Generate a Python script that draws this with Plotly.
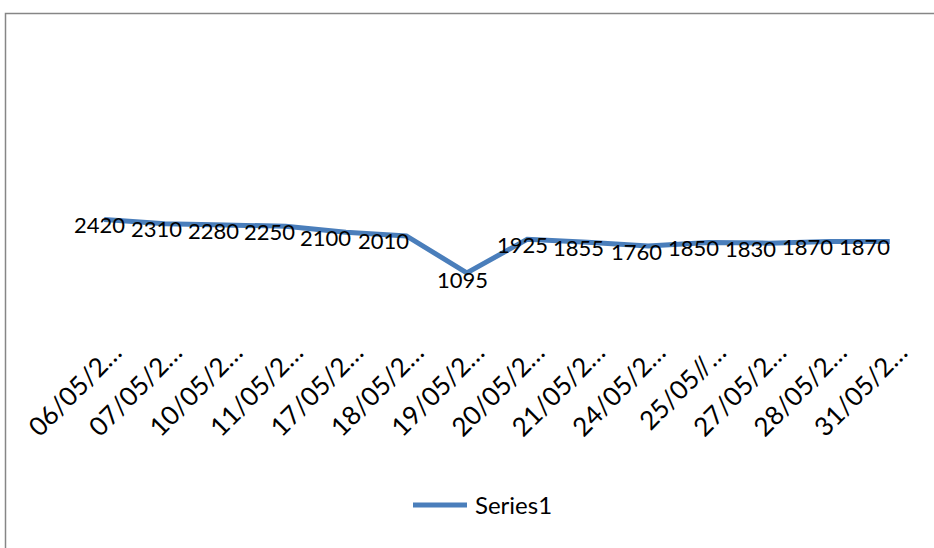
import plotly.graph_objects as go

# Category labels (as shown, truncated) and the series values
categories = ["06/05/2…", "07/05/2…", "10/05/2…", "11/05/2…", "17/05/2…",
              "18/05/2…", "19/05/2…", "20/05/2…", "21/05/2…", "24/05/2…",
              "25/05//…", "27/05/2…", "28/05/2…", "31/05/2…"]
series1 = [2420, 2310, 2280, 2250, 2100, 2010, 1095,
           1925, 1855, 1760, 1850, 1830, 1870, 1870]
series_name = "Series1"

W, H = 934, 548
ML, MR, MT, MB = 74, 14, 196, 231
FONT = "Lato"
LINE_COLOR = "#4A7EBB"

# horizontal nudges of the value labels (pixels)
label_dx = [-5, -8, -12, -16, -20, -23, -4, -5, -9, -12, -15, -18, -22, -25]

fig = go.Figure()
fig.add_trace(go.Scatter(
    x=categories, y=series1, mode="lines", name=series_name,
    line=dict(color=LINE_COLOR, width=5), showlegend=False,
    hoverinfo="skip",
))

for i, (c, v) in enumerate(zip(categories, series1)):
    fig.add_annotation(
        x=c, y=v, text=str(v), showarrow=False,
        xshift=label_dx[i], yshift=-5 if i != 6 else -7,
        font=dict(family=FONT, size=22, color="#000000"),
    )

pw = W - ML - MR
ph = H - MT - MB


def px_x(px):
    return (px - ML) / pw


def px_y(py):
    return (H - MB - py) / ph


# chart-area border
fig.add_shape(type="rect", xref="paper", yref="paper",
              x0=px_x(5.5), x1=px_x(W + 20), y0=px_y(H + 20), y1=px_y(13.5),
              line=dict(color="#868686", width=1.5), fillcolor="rgba(0,0,0,0)")

# legend: line sample and label
fig.add_shape(type="line", xref="paper", yref="paper",
              x0=px_x(413), x1=px_x(467), y0=px_y(505), y1=px_y(505),
              line=dict(color=LINE_COLOR, width=5))
fig.add_annotation(xref="paper", yref="paper", x=px_x(473), y=px_y(504),
                   text=series_name, showarrow=False, xanchor="left",
                   yanchor="middle",
                   font=dict(family=FONT, size=24, color="#000000"))

fig.update_layout(
    width=W, height=H,
    margin=dict(l=ML, r=MR, t=MT, b=MB, pad=0),
    paper_bgcolor="white", plot_bgcolor="white",
    showlegend=False,
    xaxis=dict(type="category", range=[-0.5, len(categories) - 0.5],
               showgrid=False, zeroline=False, showline=False, ticks="",
               tickangle=-45, ticklabelshift=10, ticklabelstandoff=14,
               tickfont=dict(family=FONT, size=26, color="#000000"),
               fixedrange=True),
    yaxis=dict(range=[0, 3000], visible=False, fixedrange=True),
    font=dict(family=FONT),
)

fig.write_html("out.html")
